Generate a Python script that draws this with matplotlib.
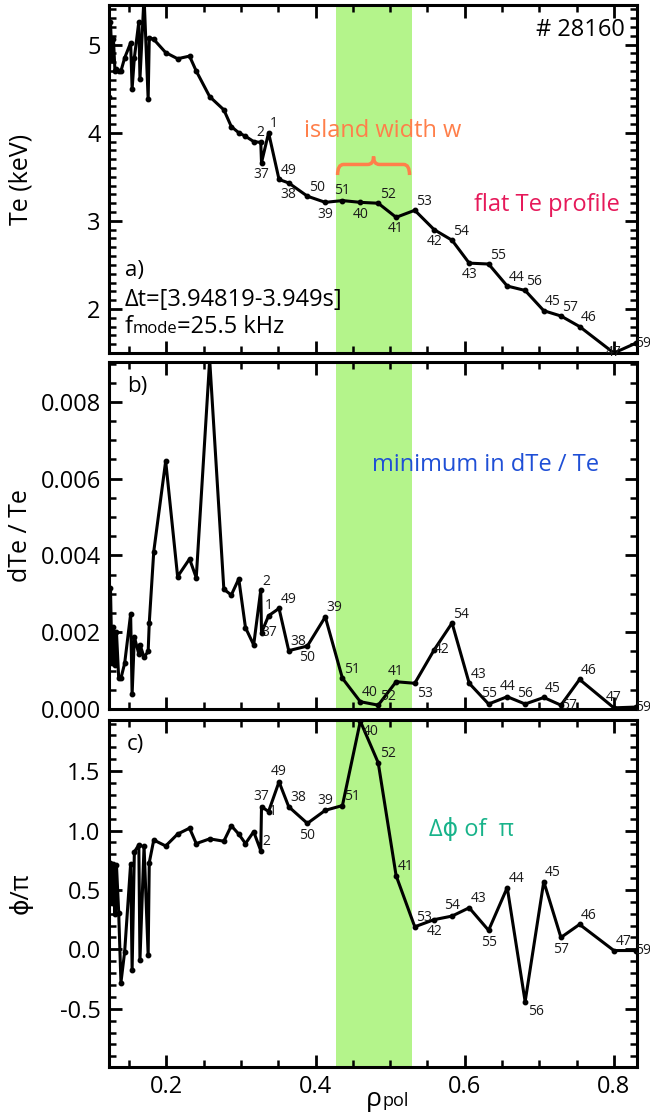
import matplotlib
matplotlib.use('Agg')
import matplotlib.pyplot as plt
from matplotlib.path import Path
from matplotlib.patches import PathPatch
from matplotlib.offsetbox import TextArea, HPacker, AnnotationBbox
from matplotlib.ticker import MultipleLocator, FormatStrFormatter

plt.rcParams['font.family'] = ['Open Sans', 'DejaVu Sans']

### rho_pol of the ECE channels (common to the three panels)
rho = [0.123, 0.125, 0.127, 0.129, 0.131, 0.133, 0.136, 0.139, 0.144, 0.152,
       0.154, 0.157, 0.163, 0.1645, 0.170, 0.1755, 0.177,
       0.183, 0.199, 0.215, 0.231, 0.240, 0.258, 0.277, 0.287, 0.297, 0.306, 0.317,
       0.3265, 0.3275, 0.337, 0.351, 0.364, 0.389, 0.413, 0.436, 0.460, 0.484,
       0.508, 0.533, 0.559, 0.583, 0.606, 0.632, 0.657, 0.681, 0.706, 0.729,
       0.754, 0.800, 0.829]
channels = [''] * 28 + ['2', '37', '1', '49', '38', '50', '39', '51', '40', '52',
                        '41', '53', '42', '54', '43', '55', '44', '56', '45', '57',
                        '46', '47', '59']

## a) electron temperature in keV
te = [4.41, 5.26, 4.83, 5.06, 4.70, 4.72, 4.70, 4.70, 4.85, 5.02,
      4.50, 4.85, 5.26, 4.61, 5.55, 4.38, 5.08,
      5.06, 4.91, 4.84, 4.87, 4.70, 4.41, 4.26, 4.07, 4.00, 3.96, 3.90,
      3.89, 3.66, 4.00, 3.47, 3.43, 3.28, 3.21, 3.23, 3.21, 3.20,
      3.04, 3.12, 2.90, 2.78, 2.52, 2.51, 2.26, 2.21, 1.98, 1.92,
      1.80, 1.50, 1.61]
## b) relative fluctuation amplitude dTe/Te
dte = [0.00120, 0.00314, 0.00119, 0.00214, 0.00115, 0.00201, 0.00080, 0.00080, 0.00119, 0.00247,
       0.00038, 0.00188, 0.00143, 0.00168, 0.00135, 0.00150, 0.00225,
       0.00410, 0.00646, 0.00345, 0.00391, 0.00342, 0.00910, 0.00312, 0.00297, 0.00339, 0.00212, 0.00167,
       0.00310, 0.00199, 0.00243, 0.00262, 0.00152, 0.00164, 0.00240, 0.00080, 0.00019, 0.00010,
       0.00071, 0.00067, 0.00154, 0.00224, 0.00067, 0.00013, 0.00032, 0.00013, 0.00030, 0.00010,
       0.00077, 0.00003, 0.00005]
## c) phase in units of pi
phase = [0.57, 0.73, 0.39, 0.72, 0.30, 0.71, 0.31, -0.28, -0.02, 0.72,
         -0.17, 0.82, 0.88, -0.09, 0.87, -0.05, 0.73,
         0.92, 0.87, 0.97, 1.02, 0.89, 0.93, 0.91, 1.04, 0.97, 0.89, 0.99,
         0.83, 1.20, 1.16, 1.41, 1.20, 1.06, 1.17, 1.21, 1.92, 1.57,
         0.62, 0.19, 0.25, 0.28, 0.35, 0.16, 0.52, -0.44, 0.57, 0.10,
         0.21, -0.01, -0.01]

island = (0.428, 0.529)

# where the channel numbers sit relative to the point (labelled channels only)
place_a = ['u', 'b', 'ur', 'ur', 'b', 'ur', 'b', 'u', 'b', 'ur', 'b', 'ur', 'b', 'ur',
           'b', 'ur', 'ur', 'ur', 'ur', 'ur', 'ur', 'c', 'r']
place_b = ['ur', 'r', 'u', 'ur', 'ur', 'b', 'ur', 'ur', 'ur', 'ur', 'u', 'br', 'r', 'ur',
           'ur', 'u', 'u', 'u', 'ur', 'r', 'ur', 'u', 'r']
place_c = ['ur', 'u', 'r', 'u', 'ur', 'b', 'u', 'ur', 'br', 'ur', 'ur', 'ur', 'b', 'u',
           'ur', 'b', 'ur', 'br', 'ur', 'b', 'ur', 'ur', 'r']
PLACE = {'ur': ((1, 1), 'left', 'bottom'),
         'u': ((0, 2), 'center', 'bottom'),
         'b': ((0, -3), 'center', 'top'),
         'r': ((0, 0), 'left', 'center'),
         'br': ((2, -2), 'left', 'top'),
         'c': ((0, 0), 'center', 'center')}

fig = plt.figure(figsize=(6.5, 11.17), dpi=100)
L, W = 109 / 650., 528 / 650.
ax_a = fig.add_axes([L, 1 - 353 / 1117., W, 348 / 1117.])
ax_b = fig.add_axes([L, 1 - 709 / 1117., W, 347 / 1117.])
ax_c = fig.add_axes([L, 1 - 1067 / 1117., W, 347 / 1117.])


def style(ax, ylim, ymaj, ymin, fmt):
    ax.set_xlim(0.123, 0.831)
    ax.set_ylim(*ylim)
    ax.axvspan(island[0], island[1], color='#b4f48b', lw=0, zorder=0)
    ax.xaxis.set_major_locator(MultipleLocator(0.2))
    ax.xaxis.set_minor_locator(MultipleLocator(0.05))
    ax.yaxis.set_major_locator(MultipleLocator(ymaj))
    ax.yaxis.set_minor_locator(MultipleLocator(ymin))
    ax.yaxis.set_major_formatter(FormatStrFormatter(fmt))
    ax.xaxis.set_major_formatter(FormatStrFormatter('%.1f'))
    ax.tick_params(which='both', direction='in', top=True, right=True, labelsize=17)
    ax.tick_params(which='major', length=9, width=2, pad=6)
    ax.tick_params(which='minor', length=5, width=1.8)
    for s in ax.spines.values():
        s.set_linewidth(2.2)
    ax.yaxis.set_label_coords(-0.143, 0.5)


def draw(ax, y, place):
    ax.plot(rho, y, '-', color='k', lw=2.2, marker='o', ms=3.2, zorder=3)
    k = 0
    for x, v, ch in zip(rho, y, channels):
        if not ch:
            continue
        off, ha, va = PLACE[place[k]]
        k += 1
        ax.annotate(ch, (x, v), xytext=off, textcoords='offset points', ha=ha, va=va,
                    fontsize=10, color='#1a1a1a', annotation_clip=False, zorder=4)


style(ax_a, (1.5, 5.45), 1, 0.1, '%d')
style(ax_b, (0.0, 0.00904), 0.002, 0.0005, '%.3f')
style(ax_c, (-0.99, 1.93), 0.5, 0.1, '%.1f')
ax_a.tick_params(labelbottom=False)
ax_b.tick_params(labelbottom=False)

draw(ax_a, te, place_a)
draw(ax_b, dte, place_b)
draw(ax_c, phase, place_c)

ax_a.set_ylabel('Te (keV)', fontsize=18)
ax_b.set_ylabel('dTe / Te', fontsize=18)
ax_c.set_ylabel('ϕ/π', fontsize=18)

## panel a annotations
ax_a.text(0.03, 0.236, 'a)', transform=ax_a.transAxes, fontsize=16, va='center')
ax_a.text(0.03, 0.152, 'Δt=[3.94819-3.949s]', transform=ax_a.transAxes, fontsize=17, va='center')
fmode = HPacker(children=[TextArea('f', textprops=dict(size=17)),
                          TextArea('mode', textprops=dict(size=12)),
                          TextArea('=25.5 kHz', textprops=dict(size=17))],
                align='baseline', pad=0, sep=0)
ax_a.add_artist(AnnotationBbox(fmode, (0.03, 0.075), xycoords='axes fraction',
                               box_alignment=(0, 0.5), frameon=False))
ax_a.text(0.977, 0.928, '# 28160', transform=ax_a.transAxes, fontsize=17, ha='right', va='center')
ax_a.text(0.519, 0.638, 'island width w', transform=ax_a.transAxes, fontsize=17,
          ha='center', va='center', color='#ff7f4a')
ax_a.text(0.829, 0.425, 'flat Te profile', transform=ax_a.transAxes, fontsize=17,
          ha='center', va='center', color='#e6195a')

# curly brace over the island
x0, x1 = 0.4295, 0.526
xm, d = (x0 + x1) / 2, 0.008
ye, yh, yp = 3.52, 3.64, 3.73
verts = [(x0, ye), (x0, yh), (x0 + d, yh), (xm - d, yh), (xm, yh), (xm, yp),
         (xm, yh), (xm + d, yh), (x1 - d, yh), (x1, yh), (x1, ye)]
codes = [Path.MOVETO, Path.CURVE3, Path.CURVE3, Path.LINETO, Path.CURVE3, Path.CURVE3,
         Path.CURVE3, Path.CURVE3, Path.LINETO, Path.CURVE3, Path.CURVE3]
ax_a.add_patch(PathPatch(Path(verts, codes), fill=False, ec='#ff7f4a', lw=2.5, zorder=5))

## panel b and c annotations
ax_b.text(0.034, 0.928, 'b)', transform=ax_b.transAxes, fontsize=16, va='center')
ax_b.text(0.713, 0.703, 'minimum in dTe / Te', transform=ax_b.transAxes, fontsize=17,
          ha='center', va='center', color='#1f4fd6')
ax_c.text(0.034, 0.928, 'c)', transform=ax_c.transAxes, fontsize=16, va='center')
ax_c.text(0.687, 0.683, 'Δϕ of  π', transform=ax_c.transAxes, fontsize=17,
          ha='center', va='center', color='#18b38a')

rho_lab = HPacker(children=[TextArea('ρ', textprops=dict(size=19)),
                            TextArea('pol', textprops=dict(size=13))],
                  align='baseline', pad=0, sep=0)
ax_c.add_artist(AnnotationBbox(rho_lab, (0.527, -0.095), xycoords='axes fraction',
                               box_alignment=(0.5, 0.5), frameon=False,
                               annotation_clip=False))

plt.savefig('out.png', dpi=100)
